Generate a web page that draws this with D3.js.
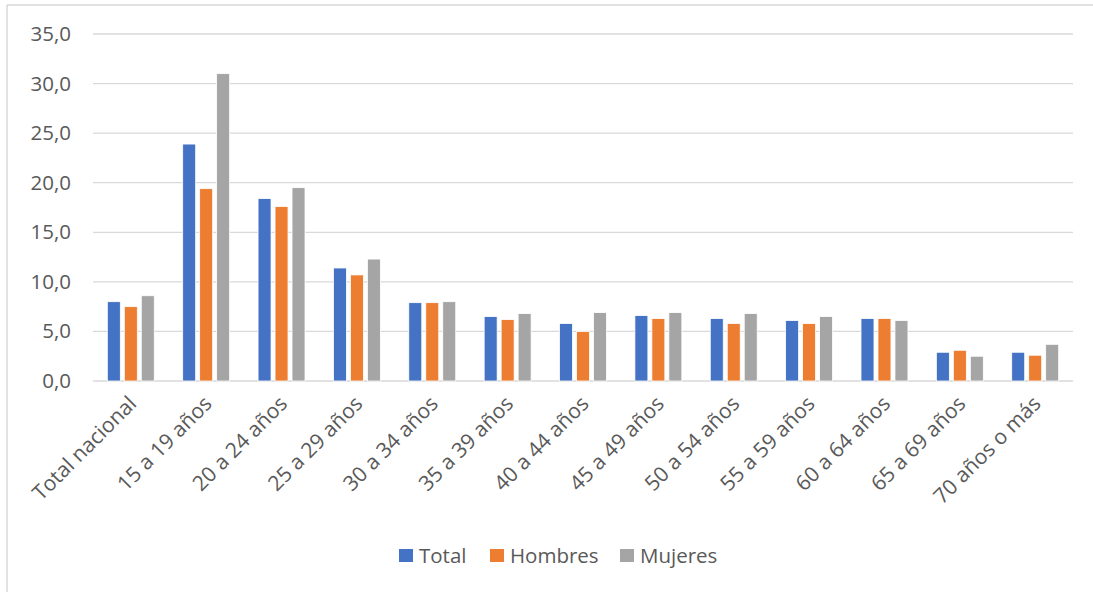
<!DOCTYPE html>
<html>
<head>
<meta charset="utf-8">
<script src="https://cdn.jsdelivr.net/npm/d3@7"></script>
<style>
  body { margin: 0; background: #fff; }
  text { font-family: "Open Sans", sans-serif; fill: #595959; }
</style>
</head>
<body>
<div id="chart"></div>
<script>
// data
const categories = ["Total nacional", "15 a 19 años", "20 a 24 años", "25 a 29 años", "30 a 34 años",
    "35 a 39 años", "40 a 44 años", "45 a 49 años", "50 a 54 años", "55 a 59 años",
    "60 a 64 años", "65 a 69 años", "70 años o más"];
const seriesNames = ["Total", "Hombres", "Mujeres"];
const total   = [8.0, 23.9, 18.4, 11.4, 7.9, 6.5, 5.8, 6.6, 6.3, 6.1, 6.3, 2.9, 2.9];
const hombres = [7.5, 19.4, 17.6, 10.7, 7.9, 6.2, 5.0, 6.3, 5.8, 5.8, 6.3, 3.1, 2.6];
const mujeres = [8.6, 31.0, 19.5, 12.3, 8.0, 6.8, 6.9, 6.9, 6.8, 6.5, 6.1, 2.5, 3.7];
const yTicks = [0, 5, 10, 15, 20, 25, 30, 35];
const colors = ["#4472c4", "#ed7d31", "#a5a5a5"];

const width = 1093, height = 592;

const svg = d3.select("#chart").append("svg")
    .attr("width", width)
    .attr("height", height);

// chart frame (only top and left edges visible in the crop)
svg.append("line").attr("x1", 7).attr("x2", width).attr("y1", 5).attr("y2", 5)
    .attr("stroke", "#d9d9d9").attr("stroke-width", 1.5);
svg.append("line").attr("x1", 7).attr("x2", 7).attr("y1", 5).attr("y2", height)
    .attr("stroke", "#d9d9d9").attr("stroke-width", 1.5);

const x0 = d3.scaleBand()
    .domain(categories)
    .range([93, 1073])
    .paddingInner(0.377)
    .paddingOuter(0.19);

const x1 = d3.scaleBand()
    .domain(seriesNames)
    .range([0, x0.bandwidth()])
    .paddingInner(0.235);

const y = d3.scaleLinear()
    .domain([0, 35])
    .range([381, 34]);

// gridlines
svg.append("g")
    .selectAll("line")
    .data(yTicks)
    .join("line")
    .attr("x1", 93)
    .attr("x2", 1073)
    .attr("y1", d => y(d))
    .attr("y2", d => y(d))
    .attr("stroke", "#d9d9d9")
    .attr("stroke-width", 1.3);

// y axis labels
const yAxis = svg.append("g")
    .attr("transform", "translate(71,0)")
    .call(d3.axisLeft(y).tickValues(yTicks).tickSize(0).tickPadding(0)
        .tickFormat(d => d3.format(".1f")(d).replace(".", ",")));
yAxis.select(".domain").remove();
yAxis.selectAll("text")
    .attr("font-size", 20.5)
    .attr("font-family", "Open Sans, sans-serif")
    .attr("fill", "#595959");

// bars
const rows = categories.map((c, i) => ({cat: c, values: [total[i], hombres[i], mujeres[i]]}));

const groups = svg.append("g")
    .selectAll("g")
    .data(rows)
    .join("g")
    .attr("transform", d => `translate(${x0(d.cat)},0)`);

groups.selectAll("rect")
    .data(d => d.values.map((v, j) => ({name: seriesNames[j], value: v, color: colors[j]})))
    .join("rect")
    .attr("x", d => x1(d.name))
    .attr("y", d => y(d.value))
    .attr("width", x1.bandwidth())
    .attr("height", d => y(0) - y(d.value))
    .attr("fill", d => d.color)
    .attr("stroke", "#fff")
    .attr("stroke-width", 0.8);

// x axis labels, rotated
const xAxis = svg.append("g")
    .attr("transform", "translate(0,381)")
    .call(d3.axisBottom(x0).tickSize(0).tickPadding(0));
xAxis.select(".domain").remove();
xAxis.selectAll("text")
    .attr("font-size", 21)
    .attr("font-family", "Open Sans, sans-serif")
    .attr("fill", "#595959")
    .attr("text-anchor", "end")
    .attr("dy", null)
    .attr("y", 0)
    .attr("transform", "translate(7,24) rotate(-45)");

// legend
const legend = svg.append("g")
    .selectAll("g")
    .data(seriesNames)
    .join("g")
    .attr("transform", (d, i) => `translate(${[399, 490, 620][i]},549)`);

legend.append("rect")
    .attr("width", 14)
    .attr("height", 13)
    .attr("fill", (d, i) => colors[i]);

legend.append("text")
    .attr("x", 20)
    .attr("y", 13.5)
    .attr("font-size", 20.5)
    .text(d => d);
</script>
</body>
</html>
